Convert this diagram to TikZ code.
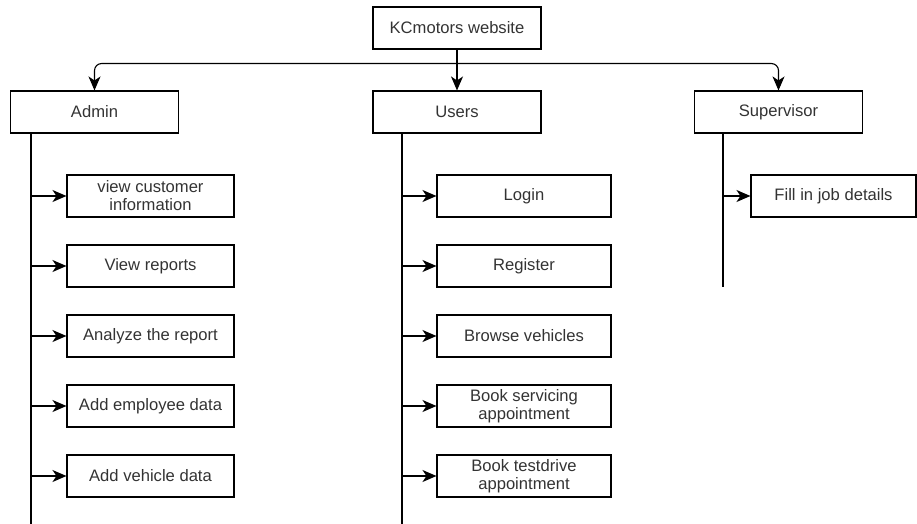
\documentclass[tikz,border=0pt]{standalone}
\usepackage{fontspec}
\setmainfont{Liberation Sans}
\usepackage{xcolor}
\usetikzlibrary{calc, arrows.meta}
\definecolor{labelgray}{HTML}{333333}

\begin{document}
\begin{tikzpicture}[x=1pt, y=-1pt, line width=1.1pt,
		font=\fontsize{16.6}{18}\selectfont]
			\tikzstyle{menubox}=[
			draw,
			rectangle,
			minimum width=168pt,
			minimum height=42pt,
			text=labelgray,
			align=center
			]
			\tikzstyle{taskbox}=[
			menubox,
			minimum width=167pt
			]
			\tikzstyle{link}=[-{Stealth[length=14pt,width=12pt,inset=4pt]}]
			\useasboundingbox (0,0) rectangle (917,524);
			% top level
			\node[menubox] (KC) at (457,28) {KCmotors website};
			\node[menubox] (ADMIN) at (94.5,112) {Admin};
			\node[menubox] (USERS) at (457,112) {Users};
			\node[menubox] (SUPER) at (778.5,112) {Supervisor};
			\coordinate (SPLIT) at ($(KC.south)+(0,14)$);
			\draw[link] (KC) -- (USERS);
			\draw[link, rounded corners=7pt] (SPLIT) -| (ADMIN);
			\draw[link, rounded corners=7pt] (SPLIT) -| (SUPER);
			%
			% admin tasks
			\node[taskbox] (A1) at (150.5,196) {view customer\\information};
			\node[taskbox] (A2) at (150.5,266) {View reports};
			\node[taskbox] (A3) at (150.5,336) {Analyze the report};
			\node[taskbox] (A4) at (150.5,406) {Add employee data};
			\node[taskbox] (A5) at (150.5,476) {Add vehicle data};
			\coordinate (ABUS) at (31,133);
			\coordinate (AEND) at (31,524);
			\draw (ABUS) -- (AEND);
			\foreach \t in {A1,A2,A3,A4,A5}
				\draw[link] (\t.west -| ABUS) -- (\t.west);
			%
			% user tasks
			\node[taskbox, minimum width=174pt] (U1) at (524,196) {Login};
			\node[taskbox, minimum width=174pt] (U2) at (524,266) {Register};
			\node[taskbox, minimum width=174pt] (U3) at (524,336) {Browse vehicles};
			\node[taskbox, minimum width=174pt] (U4) at (524,406) {Book servicing\\appointment};
			\node[taskbox, minimum width=174pt] (U5) at (524,476) {Book testdrive\\appointment};
			\coordinate (UBUS) at (402,133);
			\coordinate (UEND) at (402,524);
			\draw (UBUS) -- (UEND);
			\foreach \t in {U1,U2,U3,U4,U5}
				\draw[link] (\t.west -| UBUS) -- (\t.west);
			%
			% supervisor tasks
			\node[taskbox, minimum width=165pt] (S1) at (833.5,196) {Fill in job details};
			\coordinate (SBUS) at (723,133);
			\coordinate (SEND) at (723,287);
			\draw (SBUS) -- (SEND);
			\draw[link] (S1.west -| SBUS) -- (S1.west);
		\end{tikzpicture}
\end{document}
